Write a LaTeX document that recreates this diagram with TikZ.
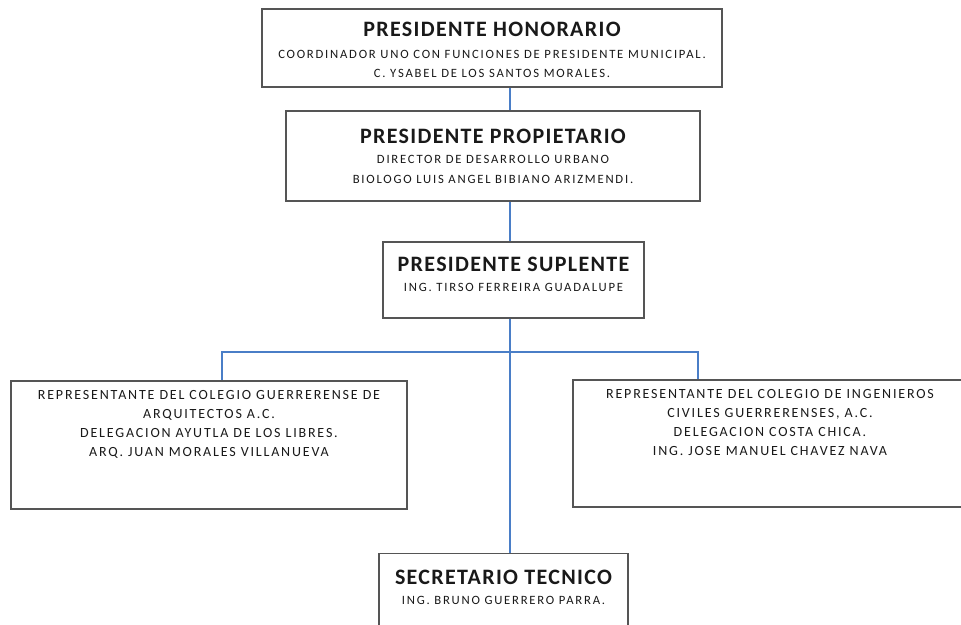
\documentclass[tikz,border=0pt]{standalone}
\usepackage{fontspec}
\setmainfont{Carlito}
\newfontfamily\headfont[LetterSpace=6]{Carlito}
\newfontfamily\smallfont[LetterSpace=14]{Carlito}
\newfontfamily\sidefont[LetterSpace=13]{Carlito}
\usepackage{xcolor}
\usetikzlibrary{positioning, calc}
\definecolor{linkblue}{RGB}{74, 126, 199}
\definecolor{boxgray}{RGB}{85, 85, 85}
\newcommand{\cargo}{\headfont\bfseries\fontsize{16.5}{18}\selectfont}
\newcommand{\nombre}{\normalfont\smallfont\fontsize{9.5}{14.5}\selectfont}
\newcommand{\colegio}{\normalfont\sidefont\fontsize{10.5}{14.25}\selectfont}
\newcommand{\relleno}[1]{\rule[-#1]{0pt}{#1}}

\begin{document}
\begin{tikzpicture}[x=0.75pt, y=-0.75pt,
    orgbox/.style={draw=boxgray, line width=1.1pt, fill=white, align=center, inner sep=2pt, text=black!90},
    link/.style={draw=linkblue, line width=0.8pt}]
    \useasboundingbox (0,0) rectangle (961,625);
    \node[orgbox, minimum width=345pt, minimum height=58.5pt] (honorario) at (492,48) {
        \cargo\rule{0pt}{14pt}PRESIDENTE HONORARIO \\[4.5pt]
        \nombre COORDINADOR UNO CON FUNCIONES DE PRESIDENTE MUNICIPAL. \\[2pt]
        \nombre C. YSABEL DE LOS SANTOS MORALES.
    };
    \node[orgbox, minimum width=310.5pt, minimum height=67.5pt] (propietario) at (493,156) {
        \cargo PRESIDENTE PROPIETARIO \\[3.5pt]
        \nombre DIRECTOR DE DESARROLLO URBANO \\[2.5pt]
        \nombre BIOLOGO LUIS ANGEL BIBIANO ARIZMENDI.
    };
    \node[orgbox, minimum width=195.75pt, minimum height=57pt] (suplente) at (513.5,280) {
        \cargo PRESIDENTE SUPLENTE \\[3pt]
        \nombre ING. TIRSO FERREIRA GUADALUPE\relleno{8pt}
    };
    \node[orgbox, minimum width=297pt, minimum height=96pt] (arquitectos) at (209,445) {
        \colegio REPRESENTANTE DEL COLEGIO GUERRERENSE DE \\[2.25pt]
        \colegio ARQUITECTOS A.C. \\[2.25pt]
        \colegio DELEGACION AYUTLA DE LOS LIBRES. \\[2.25pt]
        \colegio ARQ. JUAN MORALES VILLANUEVA\relleno{32pt}
    };
    \node[orgbox, minimum width=295.5pt, minimum height=95.25pt] (ingenieros) at (770,443.5) {
        \colegio REPRESENTANTE DEL COLEGIO DE INGENIEROS \\[2.25pt]
        \colegio CIVILES GUERRERENSES, A.C. \\[2.25pt]
        \colegio DELEGACION COSTA CHICA. \\[2.25pt]
        \colegio ING. JOSE MANUEL CHAVEZ NAVA\relleno{31.5pt}
    };
    \node[orgbox, anchor=north, inner ysep=12pt, minimum width=186.75pt] (secretario) at (503.5,553) {
        \cargo SECRETARIO TECNICO \\[3pt]
        \nombre ING. BRUNO GUERRERO PARRA.\relleno{15pt}
    };

    \coordinate (eje) at (510,0);
    \coordinate (ramaizq) at (222,352);
    \coordinate (ramader) at (698,352);
    \draw[link] (honorario.south -| eje) -- (propietario.north -| eje);
    \draw[link] (propietario.south -| eje) -- (suplente.north -| eje);
    \draw[link] (suplente.south -| eje) -- (secretario.north -| eje);
    \draw[link] (arquitectos.north -| ramaizq) |- (ramader) -- (ramader |- ingenieros.north);
\end{tikzpicture}
\end{document}
